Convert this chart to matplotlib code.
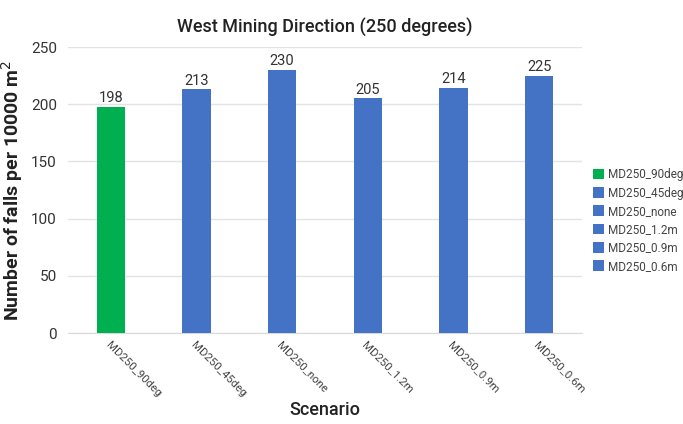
import matplotlib
matplotlib.use("Agg")
import matplotlib.pyplot as plt
from matplotlib.patches import Patch

plt.rcParams['font.family'] = ['Roboto', 'DejaVu Sans']

categories = ["MD250_90deg", "MD250_45deg", "MD250_none", "MD250_1.2m", "MD250_0.9m", "MD250_0.6m"]
values = [198, 213, 230, 205, 214, 225]
colors = ["#00B050", "#4472C4", "#4472C4", "#4472C4", "#4472C4", "#4472C4"]
yticks = [0, 50, 100, 150, 200, 250]

fig = plt.figure(figsize=(6.83, 4.24), dpi=100)
ax = fig.add_axes([0.0996, 0.2146, 0.7524, 0.6745])

x = range(len(categories))
bars = ax.bar(x, values, width=0.33, color=colors, zorder=3)
for xi, v in zip(x, values):
    ax.text(xi, v + 1.5, str(v), ha='center', va='bottom', fontsize=10.5, color='#333333')

ax.set_xlim(-0.5, len(categories) - 0.5)
ax.set_ylim(0, 250)
ax.set_yticks(yticks)
ax.yaxis.grid(True, color='#e3e3e3', linewidth=1, zorder=0)
ax.set_axisbelow(True)
for s in ['top', 'right', 'left']:
    ax.spines[s].set_visible(False)
ax.spines['bottom'].set_color('#d9d9d9')
ax.tick_params(axis='y', length=0, labelsize=11, colors='#333333', pad=8)
ax.tick_params(axis='x', length=0, pad=5)
ax.set_xticks(list(x))
ax.set_xticklabels(categories, rotation=-45, ha='left', va='top', rotation_mode='anchor',
                   fontsize=8.2, color='#444444')

ax.set_title("West Mining Direction (250 degrees)", fontsize=13, fontweight='medium',
             color='#222222', pad=10)
ax.set_ylabel("Number of falls per 10000 m$^2$", fontsize=14, fontweight='bold', color='#222222')
fig.text(0.476, 0.033, "Scenario", ha='center', va='center', fontsize=13,
         fontweight='medium', color='#222222')

handles = [Patch(facecolor=c, label=l) for c, l in zip(colors, categories)]
fig.legend(handles=handles, loc='center left', bbox_to_anchor=(0.852, 0.48), frameon=False,
           fontsize=8.5, handlelength=1.0, handleheight=1.0, handletextpad=0.3,
           labelspacing=0.45, labelcolor='#444444')

fig.savefig("out.png", dpi=100)
